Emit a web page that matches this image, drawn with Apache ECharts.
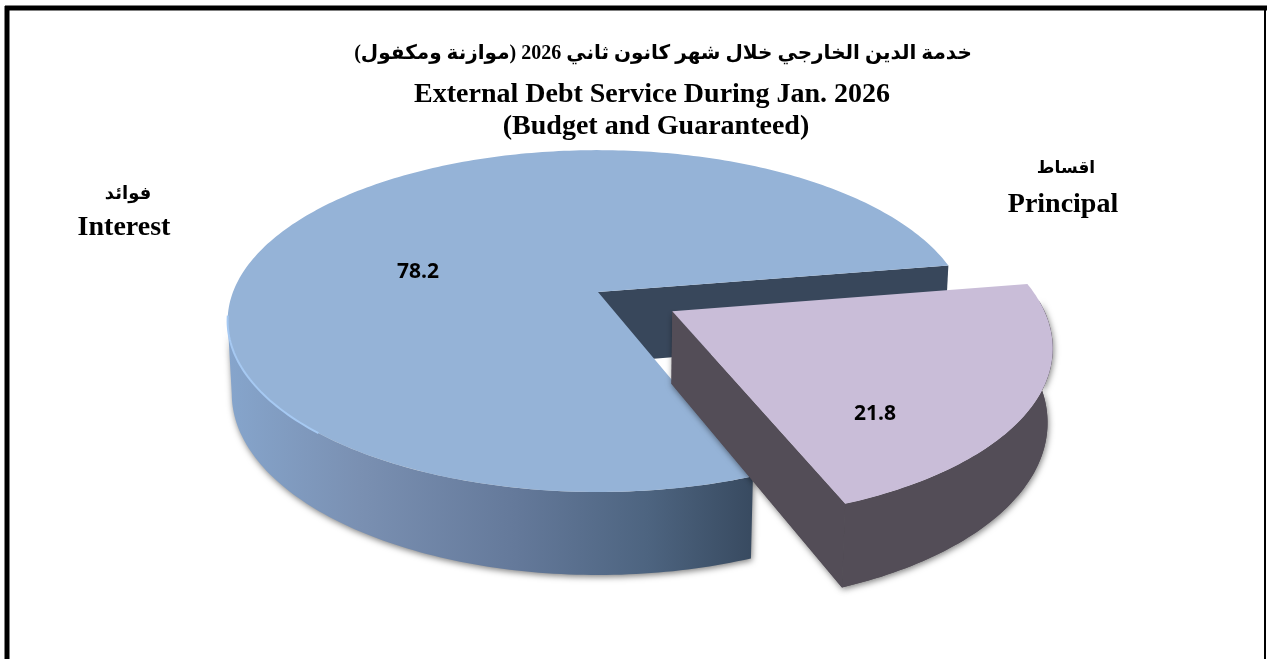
<!DOCTYPE html>
<html><head><meta charset="utf-8">
<style>html,body{margin:0;padding:0;background:#fff}#c{width:1267px;height:659px}</style>
<script src="https://cdn.jsdelivr.net/npm/echarts@6/dist/echarts.min.js"></script>
</head><body><div id="c"></div>
<script>
var categoriesEn = ['Interest', 'Principal'];
var categoriesAr = ['فوائد', 'اقساط'];
var values = [78.2, 21.8];
var titleLines = ['خدمة الدين الخارجي خلال شهر كانون ثاني 2026 (موازنة ومكفول)', 'External Debt Service During Jan. 2026', '(Budget and Guaranteed)'];

// projection of the tilted disc
var CX = 598, CY = 292, R = 365, S = 166, K = 0.17, H = 72, SHRINK = 0.011, EXPLODE = 0.23, START = -9.4;
var total = values[0] + values[1];
var sweepPrincipal = values[1] / total * 360;
var rad = function (d) { return d * Math.PI / 180; };
function project(u, v, z) {
  var w = 1 - K * v + (z ? SHRINK : 0);
  return [CX + R * u / w, CY + (S * v + (z ? H : 0)) / w];
}
function arc(from, to, ox, oy, z) {
  var pts = [], n = Math.ceil(Math.abs(to - from)), i, a;
  for (i = 0; i <= n; i++) {
    a = rad(from + (to - from) * i / n);
    pts.push(project(Math.cos(a) + ox, Math.sin(a) + oy, z));
  }
  return pts;
}
var SHADOW = { shadowBlur: 6, shadowColor: 'rgba(0,0,0,0.5)', shadowOffsetX: 1, shadowOffsetY: 2 };
function poly(points, style, z2) {
  return { type: 'polygon', z2: z2 || 0, shape: { points: points }, style: style };
}
function grad(stops) {
  return new echarts.graphic.LinearGradient(0, 0, 1, 0, stops);
}
function renderInterest() {
  var endA = START + sweepPrincipal;
  var fullTop = [project(0, 0, false)].concat(arc(endA, START + 360, 0, 0, false));
  var tan = 180 - Math.asin(K) * 180 / Math.PI;
  var front = arc(endA, tan, 0, 0, false).concat(arc(tan, endA, 0, 0, true));
  var a0 = rad(START);
  var s = project(Math.cos(a0), Math.sin(a0), false), sb = project(Math.cos(a0), Math.sin(a0), true);
  return { type: 'group', children: [
    poly(front, Object.assign({ fill: grad([
      { offset: 0, color: '#86a5cc' }, { offset: 0.25, color: '#7a90b2' }, { offset: 0.55, color: '#64799a' },
      { offset: 0.8, color: '#4d6480' }, { offset: 1, color: '#384a60' }]) }, SHADOW), 1),
    poly([project(0, 0, false), s, sb, project(0, 0, true)], { fill: '#38475b' }, 2),
    poly(fullTop, { fill: '#95b3d7' }, 3),
    { type: 'polyline', z2: 4, shape: { points: arc(132, 172, 0, 0, false) },
      style: { fill: null, stroke: '#a6c9f2', lineWidth: 2 } },
    { type: 'text', z2: 5, x: 418, y: 272, style: { text: values[0].toFixed(1), fill: '#000',
      font: 'bold 21px "Open Sans"', align: 'center', verticalAlign: 'middle' } }
  ] };
}
function renderPrincipal() {
  var mid = rad(START + sweepPrincipal / 2), ox = EXPLODE * Math.cos(mid), oy = EXPLODE * Math.sin(mid);
  var endA = START + sweepPrincipal;
  var a1 = rad(endA);
  var vT = project(ox, oy, false), vB = project(ox, oy, true);
  var eT = project(Math.cos(a1) + ox, Math.sin(a1) + oy, false), eB = project(Math.cos(a1) + ox, Math.sin(a1) + oy, true);
  var wall = arc(START + 6, endA, ox, oy, false).concat(arc(endA, START + 6, ox, oy, true));
  return { type: 'group', children: [
    poly(wall, Object.assign({ fill: '#534d57' }, SHADOW), 6),
    poly([vT, eT, eB, vB], Object.assign({ fill: '#534d57' }, SHADOW), 6),
    poly([vT, eT, eB, vB], { fill: '#534d57' }, 7),
    poly(wall, { fill: '#534d57' }, 7),
    poly([vT].concat(arc(START, endA, ox, oy, false)), { fill: '#c9bdd8' }, 8),
    { type: 'text', z2: 9, x: 875, y: 414, style: { text: values[1].toFixed(1), fill: '#000',
      font: 'bold 21px "Open Sans"', align: 'center', verticalAlign: 'middle' } }
  ] };
}
function renderItem(params) {
  return params.dataIndex === 0 ? renderInterest() : renderPrincipal();
}
function txt(x, y, t, font) {
  return { type: 'text', x: x, y: y, z: 10, style: { text: t, font: font, fill: '#000', align: 'center', verticalAlign: 'middle' } };
}
var chart = echarts.init(document.getElementById('c'), null, { renderer: 'canvas' });
chart.setOption({
  animation: false,
  backgroundColor: '#fff',
  graphic: { elements: [
    { type: 'line', shape: { x1: 7, y1: 6, x2: 7, y2: 659 }, style: { stroke: '#000', lineWidth: 5 } },
    { type: 'line', shape: { x1: 5, y1: 8, x2: 1267, y2: 8 }, style: { stroke: '#000', lineWidth: 5 } },
    { type: 'line', shape: { x1: 1265, y1: 8, x2: 1265, y2: 659 }, style: { stroke: '#000', lineWidth: 2 } },
    txt(663, 54, titleLines[0], 'bold 20px "Liberation Serif","DejaVu Sans"'),
    txt(652, 95, titleLines[1], 'bold 28px "Liberation Serif"'),
    txt(656, 127, titleLines[2], 'bold 28px "Liberation Serif"'),
    txt(128, 194, categoriesAr[0], 'bold 18px "Liberation Serif","DejaVu Sans"'),
    txt(124, 228, categoriesEn[0], 'bold 28px "Liberation Serif"'),
    txt(1066, 169, categoriesAr[1], 'bold 17px "Liberation Serif","DejaVu Sans"'),
    txt(1063, 205, categoriesEn[1], 'bold 28px "Liberation Serif"')
  ] },
  series: [{
    type: 'custom', coordinateSystem: 'none', silent: true, clip: false,
    renderItem: renderItem, data: values
  }]
});
</script></body></html>
